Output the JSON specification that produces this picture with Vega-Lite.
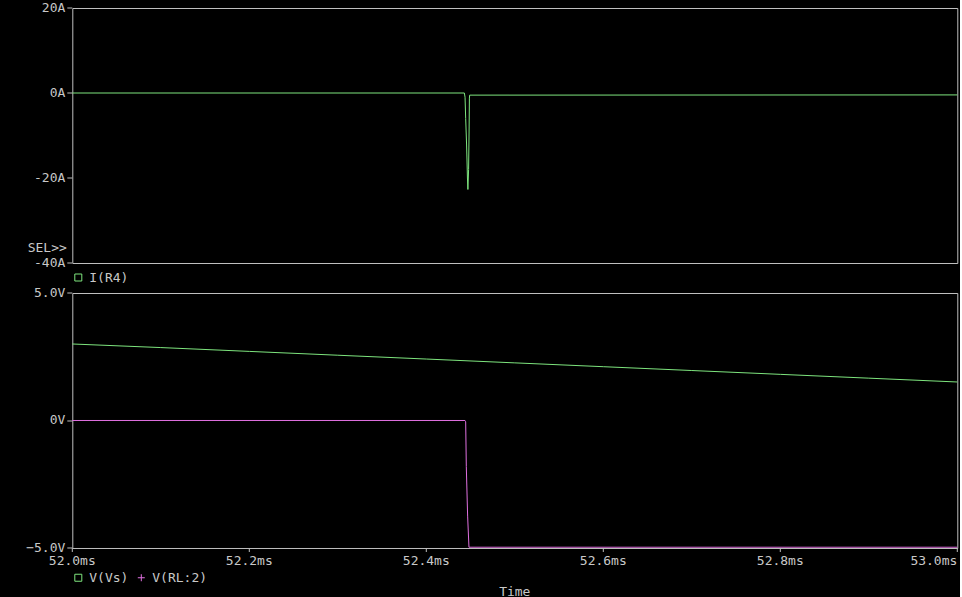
{
  "$schema": "https://vega.github.io/schema/vega-lite/v6.json",
  "background": "black",
  "autosize": {"type": "pad"},
  "padding": {"left": 25.3, "top": 1, "right": 0, "bottom": 0},
  "bounds": "flush",
  "spacing": 30,
  "config": {
    "view": {"stroke": "#c0c0c0", "strokeWidth": 1},
    "font": "DejaVu Sans Mono",
    "axis": {
      "translate": 0,
      "domain": false,
      "grid": false,
      "tickColor": "#c0c0c0",
      "tickSize": 5,
      "tickWidth": 1,
      "labelColor": "#c8c8c8",
      "labelFont": "DejaVu Sans Mono",
      "labelFontSize": 13,
      "labelPadding": 2,
      "titleColor": "#c8c8c8",
      "titleFont": "DejaVu Sans Mono",
      "titleFontSize": 13,
      "titleFontWeight": "normal"
    },
    "legend": {
      "labelColor": "#c8c8c8",
      "labelFont": "DejaVu Sans Mono",
      "labelFontSize": 13,
      "padding": 0,
      "labelOffset": 4.5,
      "columnPadding": 6,
      "symbolSize": 49,
      "symbolStrokeWidth": 1
    }
  },
  "resolve": {"scale": {"color": "independent", "y": "independent"}, "legend": {"color": "independent"}},
  "vconcat": [
    {
      "width": 885,
      "height": 255,
      "data": {
        "values": [
          {"t": 52.0, "i": 0, "s1": "I(R4)"},
          {"t": 52.443, "i": 0, "s1": "I(R4)"},
          {"t": 52.4438, "i": -1, "s1": "I(R4)"},
          {"t": 52.4445, "i": -6, "s1": "I(R4)"},
          {"t": 52.4455, "i": -12, "s1": "I(R4)"},
          {"t": 52.4465, "i": -20, "s1": "I(R4)"},
          {"t": 52.447, "i": -22.7, "s1": "I(R4)"},
          {"t": 52.4478, "i": -18, "s1": "I(R4)"},
          {"t": 52.4484, "i": -8, "s1": "I(R4)"},
          {"t": 52.4487, "i": -1.2, "s1": "I(R4)"},
          {"t": 52.449, "i": -0.5, "s1": "I(R4)"},
          {"t": 53.0, "i": -0.45, "s1": "I(R4)"}
        ]
      },
      "mark": {"type": "line", "strokeWidth": 1},
      "encoding": {
        "x": {
          "field": "t", "type": "quantitative",
          "scale": {"domain": [52, 53], "nice": false, "zero": false},
          "axis": null
        },
        "y": {
          "field": "i", "type": "quantitative",
          "scale": {"domain": [-40, 20], "nice": false, "zero": false},
          "axis": {
            "values": [20, 0, -20, -40],
            "labelExpr": "datum.value + 'A'",
            "title": "SEL>>",
            "titleAngle": 0,
            "titleAlign": "right",
            "titleBaseline": "middle",
            "titleX": -5.5,
            "titleY": 240
          }
        },
        "color": {
          "field": "s1", "type": "nominal",
          "scale": {"domain": ["I(R4)"], "range": ["#7ee67e"]},
          "legend": {
            "title": null,
            "orient": "none",
            "legendX": -0.5,
            "legendY": 263,
            "symbolType": "square",
            "encode": {"symbols": {"update": {"fill": {"value": "transparent"}}}}
          }
        }
      }
    },
    {
      "width": 885,
      "height": 255,
      "data": {
        "values": [
          {"t": 52.0, "v": 3.0, "s2": "V(Vs)"},
          {"t": 52.1, "v": 2.86, "s2": "V(Vs)"},
          {"t": 52.2, "v": 2.71, "s2": "V(Vs)"},
          {"t": 52.3, "v": 2.56, "s2": "V(Vs)"},
          {"t": 52.4, "v": 2.41, "s2": "V(Vs)"},
          {"t": 52.5, "v": 2.26, "s2": "V(Vs)"},
          {"t": 52.6, "v": 2.11, "s2": "V(Vs)"},
          {"t": 52.7, "v": 1.96, "s2": "V(Vs)"},
          {"t": 52.8, "v": 1.81, "s2": "V(Vs)"},
          {"t": 52.9, "v": 1.66, "s2": "V(Vs)"},
          {"t": 53.0, "v": 1.51, "s2": "V(Vs)"},
          {"t": 52.0, "v": 0, "s2": "V(RL:2)"},
          {"t": 52.4437, "v": 0, "s2": "V(RL:2)"},
          {"t": 52.4445, "v": -0.05, "s2": "V(RL:2)"},
          {"t": 52.4452, "v": -1.8, "s2": "V(RL:2)"},
          {"t": 52.4467, "v": -3.75, "s2": "V(RL:2)"},
          {"t": 52.4482, "v": -4.97, "s2": "V(RL:2)"},
          {"t": 53.0, "v": -4.97, "s2": "V(RL:2)"}
        ]
      },
      "mark": {"type": "line", "strokeWidth": 1},
      "encoding": {
        "x": {
          "field": "t", "type": "quantitative",
          "scale": {"domain": [52, 53], "nice": false, "zero": false},
          "axis": {
            "values": [52, 52.2, 52.4, 52.6, 52.8, 53],
            "labelExpr": "format(datum.value, '.1f') + 'ms'",
            "labelAlign": {"condition": {"test": "datum.value >= 52.99", "value": "right"}, "value": "center"},
            "tickSize": 4,
            "labelPadding": 3,
            "title": "Time",
            "titleX": 442.5,
            "titleY": 44,
            "titleBaseline": "middle",
            "titleAlign": "center"
          }
        },
        "y": {
          "field": "v", "type": "quantitative",
          "scale": {"domain": [-5, 5], "nice": false, "zero": false},
          "axis": {
            "values": [5, 0, -5],
            "labelExpr": "datum.value == 0 ? '0V' : format(datum.value, '.1f') + 'V'",
            "title": null
          }
        },
        "color": {
          "field": "s2", "type": "nominal",
          "sort": ["V(Vs)", "V(RL:2)"],
          "scale": {"domain": ["V(Vs)", "V(RL:2)"], "range": ["#7ee67e", "#e070e0"]},
          "legend": {
            "title": null,
            "orient": "none",
            "direction": "horizontal",
            "legendX": -0.5,
            "legendY": 278,
            "symbolType": "square",
            "encode": {
              "symbols": {
                "update": {
                  "fill": {"value": "transparent"},
                  "shape": {"signal": "datum.label == 'V(Vs)' ? 'square' : 'M-1,0H1M0,-1V1'"}
                }
              }
            }
          }
        }
      }
    }
  ]
}
